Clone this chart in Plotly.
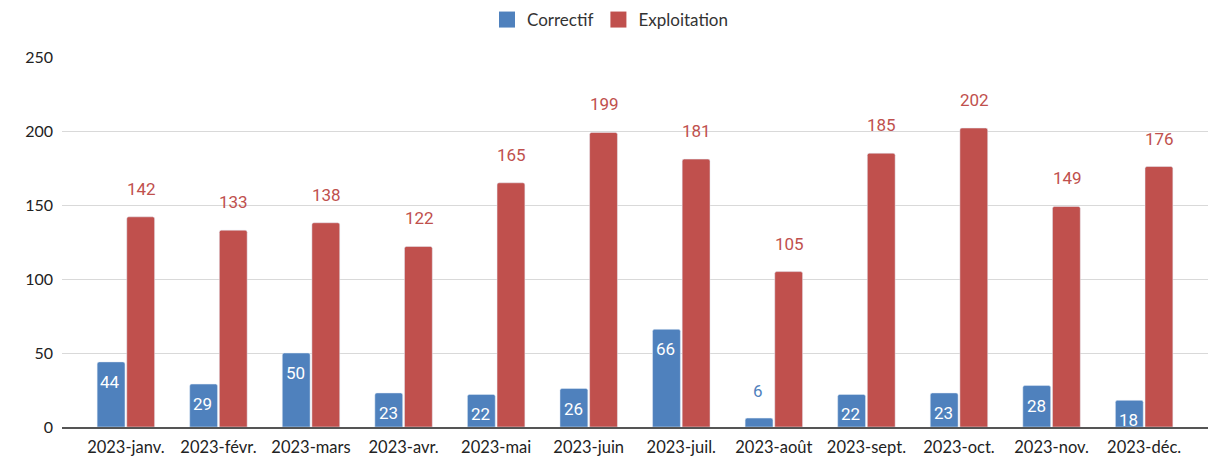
import plotly.graph_objects as go

months = ["2023-janv.", "2023-févr.", "2023-mars", "2023-avr.", "2023-mai", "2023-juin",
          "2023-juil.", "2023-août", "2023-sept.", "2023-oct.", "2023-nov.", "2023-déc."]
correctif = [44, 29, 50, 23, 22, 26, 66, 6, 22, 23, 28, 18]
exploitation = [142, 133, 138, 122, 165, 199, 181, 105, 185, 202, 149, 176]

BLUE = "#4F81BD"
RED = "#C0504D"

fig = go.Figure()
fig.add_trace(go.Bar(name="Correctif", x=months, y=correctif, marker_color=BLUE,
                     marker_cornerradius=2, showlegend=False, legendgroup="c"))
fig.add_trace(go.Bar(name="Exploitation", x=months, y=exploitation, marker_color=RED,
                     marker_cornerradius=2, showlegend=False, legendgroup="e"))
# legend entries with larger square swatches
fig.add_trace(go.Scatter(name="Correctif", x=[None], y=[None], mode="markers", legendgroup="c",
                         marker=dict(symbol="square", size=16, color=BLUE)))
fig.add_trace(go.Scatter(name="Exploitation", x=[None], y=[None], mode="markers", legendgroup="e",
                         marker=dict(symbol="square", size=16, color=RED)))

ann = []
for m, c, e in zip(months, correctif, exploitation):
    if c >= 15:
        ann.append(dict(x=m, y=c, text=str(c), showarrow=False, xshift=-15.5, yshift=-20,
                        yanchor="middle", font=dict(color="white", size=17, family="Roboto")))
    else:
        ann.append(dict(x=m, y=c, text=str(c), showarrow=False, xshift=-15.5, yshift=27,
                        yanchor="middle", font=dict(color=BLUE, size=17, family="Roboto")))
    ann.append(dict(x=m, y=e, text=str(e), showarrow=False, xshift=15.5, yshift=28,
                    yanchor="middle", font=dict(color=RED, size=17, family="Roboto")))

fig.update_layout(
    width=1224, height=474,
    margin=dict(l=62, r=16, t=57, b=47, autoexpand=False),
    paper_bgcolor="white", plot_bgcolor="white",
    barmode="group", bargap=0.36, bargroupgap=0.06,
    font=dict(family="Lato", size=16, color="#222222"),
    legend=dict(orientation="h", x=(610 - 62) / 1146, xanchor="center",
                y=1 - 20 / 474, yref="container", yanchor="middle",
                font=dict(size=17, family="Lato", color="#333333"),
                traceorder="normal", itemclick=False, itemdoubleclick=False),
    annotations=ann,
    showlegend=True,
)
fig.update_xaxes(range=[-0.69, 11.69], showgrid=False, ticks="", tickfont=dict(size=16.5),
                 showline=True, linecolor="#555555", linewidth=1.5, ticklabelstandoff=4)
fig.update_yaxes(range=[0, 250], dtick=50, gridcolor="#d9d9d9", gridwidth=1,
                 zeroline=False, ticks="", tickfont=dict(size=16),
                 ticklabelstandoff=8)

fig.write_html("out.html", config={"displayModeBar": False},
               post_script="document.body.style.margin='0';document.body.style.padding='0';")
